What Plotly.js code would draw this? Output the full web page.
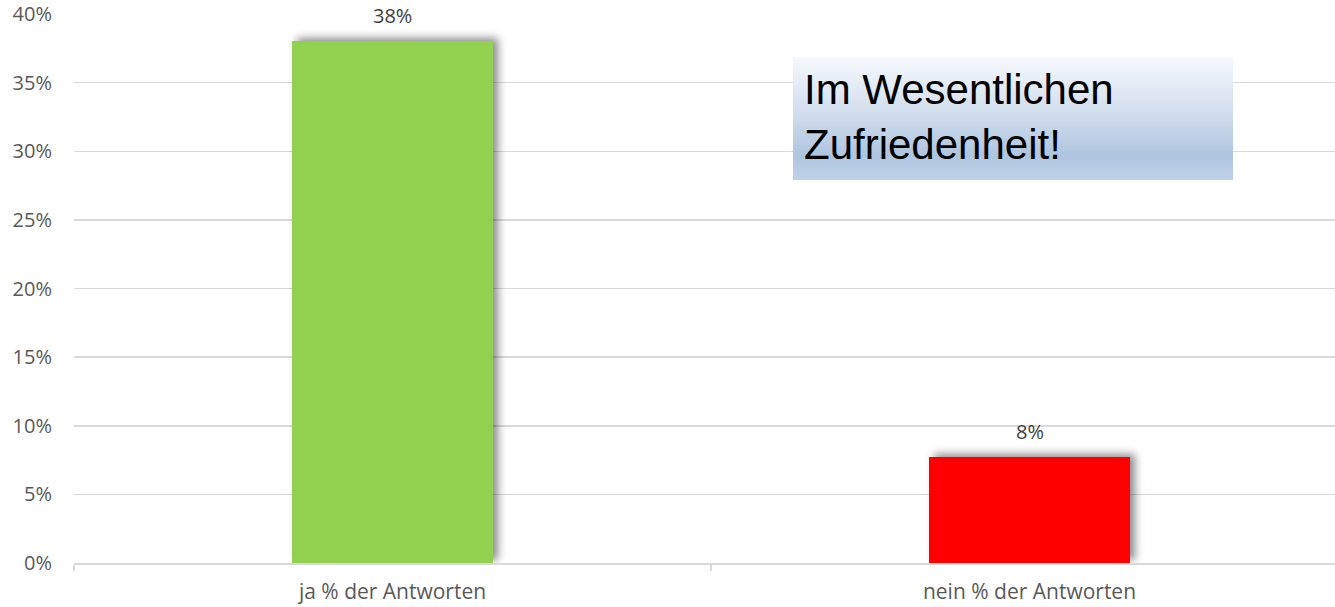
<!DOCTYPE html>
<html>
<head>
<meta charset="utf-8">
<script src="https://cdn.plot.ly/plotly-3.0.1.min.js"></script>
<style>
  html, body { margin: 0; padding: 0; background: #ffffff; }
  #chart { width: 1335px; height: 607px; }
  .barlayer .trace path { filter: drop-shadow(5px -3px 4px rgba(0,0,0,0.45)); }
</style>
</head>
<body>
<div id="chart"></div>
<script>
// ---- data ----
const categories = ["ja % der Antworten", "nein % der Antworten"];
const values = [0.38, 0.0775];
const barColors = ["#92d050", "#ff0000"];
const yTickValues = [0, 0.05, 0.10, 0.15, 0.20, 0.25, 0.30, 0.35, 0.40];
const yTickLabels = ["0%", "5%", "10%", "15%", "20%", "25%", "30%", "35%", "40%"];
const boxText = "Im Wesentlichen<br>Zufriedenheit!";

const gradSvg =
  '<svg xmlns="http://www.w3.org/2000/svg" width="440" height="123" viewBox="0 0 440 123" preserveAspectRatio="none">' +
  '<defs><linearGradient id="g" x1="0" y1="0" x2="0" y2="1">' +
  '<stop offset="0" stop-color="#f6f9fc"/>' +
  '<stop offset="0.45" stop-color="#d2deed"/>' +
  '<stop offset="0.8" stop-color="#aec5e0"/>' +
  '<stop offset="1" stop-color="#bfd1e7"/>' +
  '</linearGradient></defs><rect width="440" height="123" fill="url(#g)"/></svg>';
const gradUri = "data:image/svg+xml;charset=utf-8," + encodeURIComponent(gradSvg);

const trace = {
  type: "bar",
  x: categories,
  y: values,
  width: 0.314,
  marker: { color: barColors, line: { width: 0 } },
  hoverinfo: "skip"
};

const labelAnnotations = categories.map((c, i) => ({
  x: c, y: values[i], xref: "x", yref: "y",
  text: Math.round(values[i] * 100) + "%",
  showarrow: false, yanchor: "bottom", yshift: 10,
  font: { family: "Open Sans", size: 20, color: "#404040" }
}));

const layout = {
  width: 1335, height: 607,
  margin: { l: 74, r: 0, t: 14, b: 44 },
  paper_bgcolor: "#ffffff",
  plot_bgcolor: "#ffffff",
  showlegend: false,
  bargap: 0,
  xaxis: {
    type: "category",
    range: [-0.5, 1.4796],
    showline: true, linecolor: "#d9d9d9", linewidth: 1.5,
    ticks: "outside", tickson: "boundaries", ticklen: 6, tickcolor: "#d9d9d9", tickwidth: 1.5,
    ticklabelstandoff: 9,
    showgrid: false, zeroline: false,
    tickfont: { family: "Open Sans", size: 21, color: "#595959" }
  },
  yaxis: {
    range: [0, 0.40],
    tickvals: yTickValues, ticktext: yTickLabels,
    showgrid: true, gridcolor: "#d9d9d9", gridwidth: 1.5,
    zeroline: false, showline: false, ticks: "",
    ticklabelstandoff: 21,
    tickfont: { family: "Open Sans", size: 20, color: "#595959" }
  },
  images: [{
    source: gradUri, xref: "paper", yref: "paper",
    x: (793 - 74) / 1261, y: (563 - 57) / 549,
    sizex: 440 / 1261, sizey: 123 / 549,
    xanchor: "left", yanchor: "top", sizing: "stretch", layer: "above"
  }],
  annotations: labelAnnotations.concat([{
    xref: "paper", yref: "paper",
    x: (802 - 74) / 1261, y: (563 - 117) / 549,
    xanchor: "left", yanchor: "middle", align: "left",
    text: boxText, showarrow: false,
    font: { family: "Liberation Sans, Arial", size: 42, color: "#000000" }
  }])
};

Plotly.newPlot("chart", [trace], layout, { staticPlot: true, displayModeBar: false });
</script>
</body>
</html>
